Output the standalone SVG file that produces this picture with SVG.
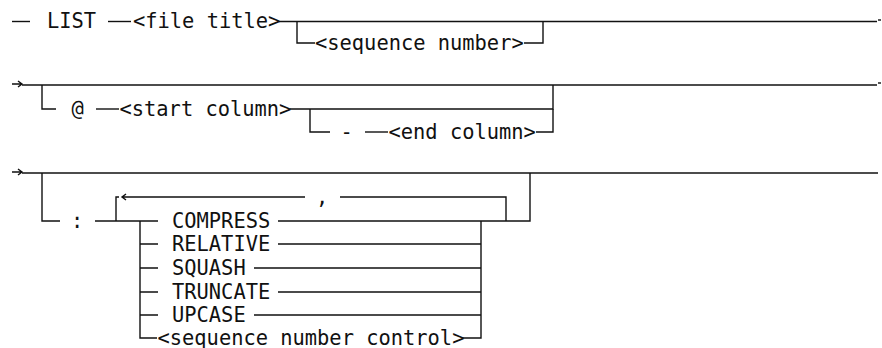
<svg xmlns="http://www.w3.org/2000/svg" width="882" height="348" viewBox="0 0 882 348">
<style>
  .t { font-family: "DejaVu Sans Mono", "Liberation Mono", monospace; font-size: 20.4px; fill: #111; }
  .c { fill: none; stroke: #111; stroke-width: 1.4; }
</style>
<rect width="882" height="348" fill="#fff"/>
<g id="connectors">
  <!-- row 1 -->
  <path class="c" d="M12,21.5 H30"/>
  <path class="c" d="M108,21.5 H131"/>
  <path class="c" d="M279,21.5 H877"/>
  <path class="c" d="M878,20 H881"/>
  <path class="c" d="M297,21.5 V43 H315"/>
  <path class="c" d="M524,43 H543 V21.5"/>
  <!-- row 2 -->
  <path class="c" d="M12,84 H22 M18,81 L22,84 L18,87"/>
  <path class="c" d="M22,85 H877"/>
  <path class="c" d="M878,83 H881"/>
  <path class="c" d="M42,85 V109 H56"/>
  <path class="c" d="M96,109 H119"/>
  <path class="c" d="M290,109 H553 V85"/>
  <path class="c" d="M310,109 V132 H330"/>
  <path class="c" d="M365,132 H388"/>
  <path class="c" d="M536,132 H553 V109"/>
  <!-- row 3 -->
  <path class="c" d="M12,172 H22 M18,169 L22,172 L18,175"/>
  <path class="c" d="M22,173 H878"/>
  <path class="c" d="M42,173 V221 H60"/>
  <path class="c" d="M95,221 H158"/>
  <path class="c" d="M278,221 H530 V173"/>
  <path class="c" d="M116,221 V197 H119"/>
  <path class="c" d="M122,197 H305 M126,194 L122,197 L126,200"/>
  <path class="c" d="M340,197 H506 V221"/>
  <path class="c" d="M140,221 V338 H157"/>
  <path class="c" d="M140,244 H158 M278,244 H481"/>
  <path class="c" d="M140,268 H158 M254,268 H481"/>
  <path class="c" d="M140,292 H158 M278,292 H481"/>
  <path class="c" d="M140,315 H158 M254,315 H481"/>
  <path class="c" d="M462,338 H481 V221"/>
</g>
<g id="n-list"><text class="t" x="47" y="28">LIST</text></g>
<g id="n-file-title"><text class="t" x="133" y="28">&lt;file title&gt;</text></g>
<g id="n-sequence-number"><text class="t" x="315" y="49.5">&lt;sequence number&gt;</text></g>
<g id="n-at"><text class="t" x="71.5" y="115.5">@</text></g>
<g id="n-start-column"><text class="t" x="119.5" y="115.5">&lt;start column&gt;</text></g>
<g id="n-dash"><text class="t" x="340.5" y="138.5">-</text></g>
<g id="n-end-column"><text class="t" x="388.5" y="138.5">&lt;end column&gt;</text></g>
<g id="n-colon"><text class="t" x="71" y="227.5">:</text></g>
<g id="n-comma"><text class="t" x="316" y="203.5">,</text></g>
<g id="n-compress"><text class="t" x="172" y="227.5">COMPRESS</text></g>
<g id="n-relative"><text class="t" x="172" y="250.5">RELATIVE</text></g>
<g id="n-squash"><text class="t" x="172" y="274.5">SQUASH</text></g>
<g id="n-truncate"><text class="t" x="172" y="298.5">TRUNCATE</text></g>
<g id="n-upcase"><text class="t" x="172" y="321.5">UPCASE</text></g>
<g id="n-seq-control"><text class="t" x="157.5" y="344.5">&lt;sequence number control&gt;</text></g>
</svg>
